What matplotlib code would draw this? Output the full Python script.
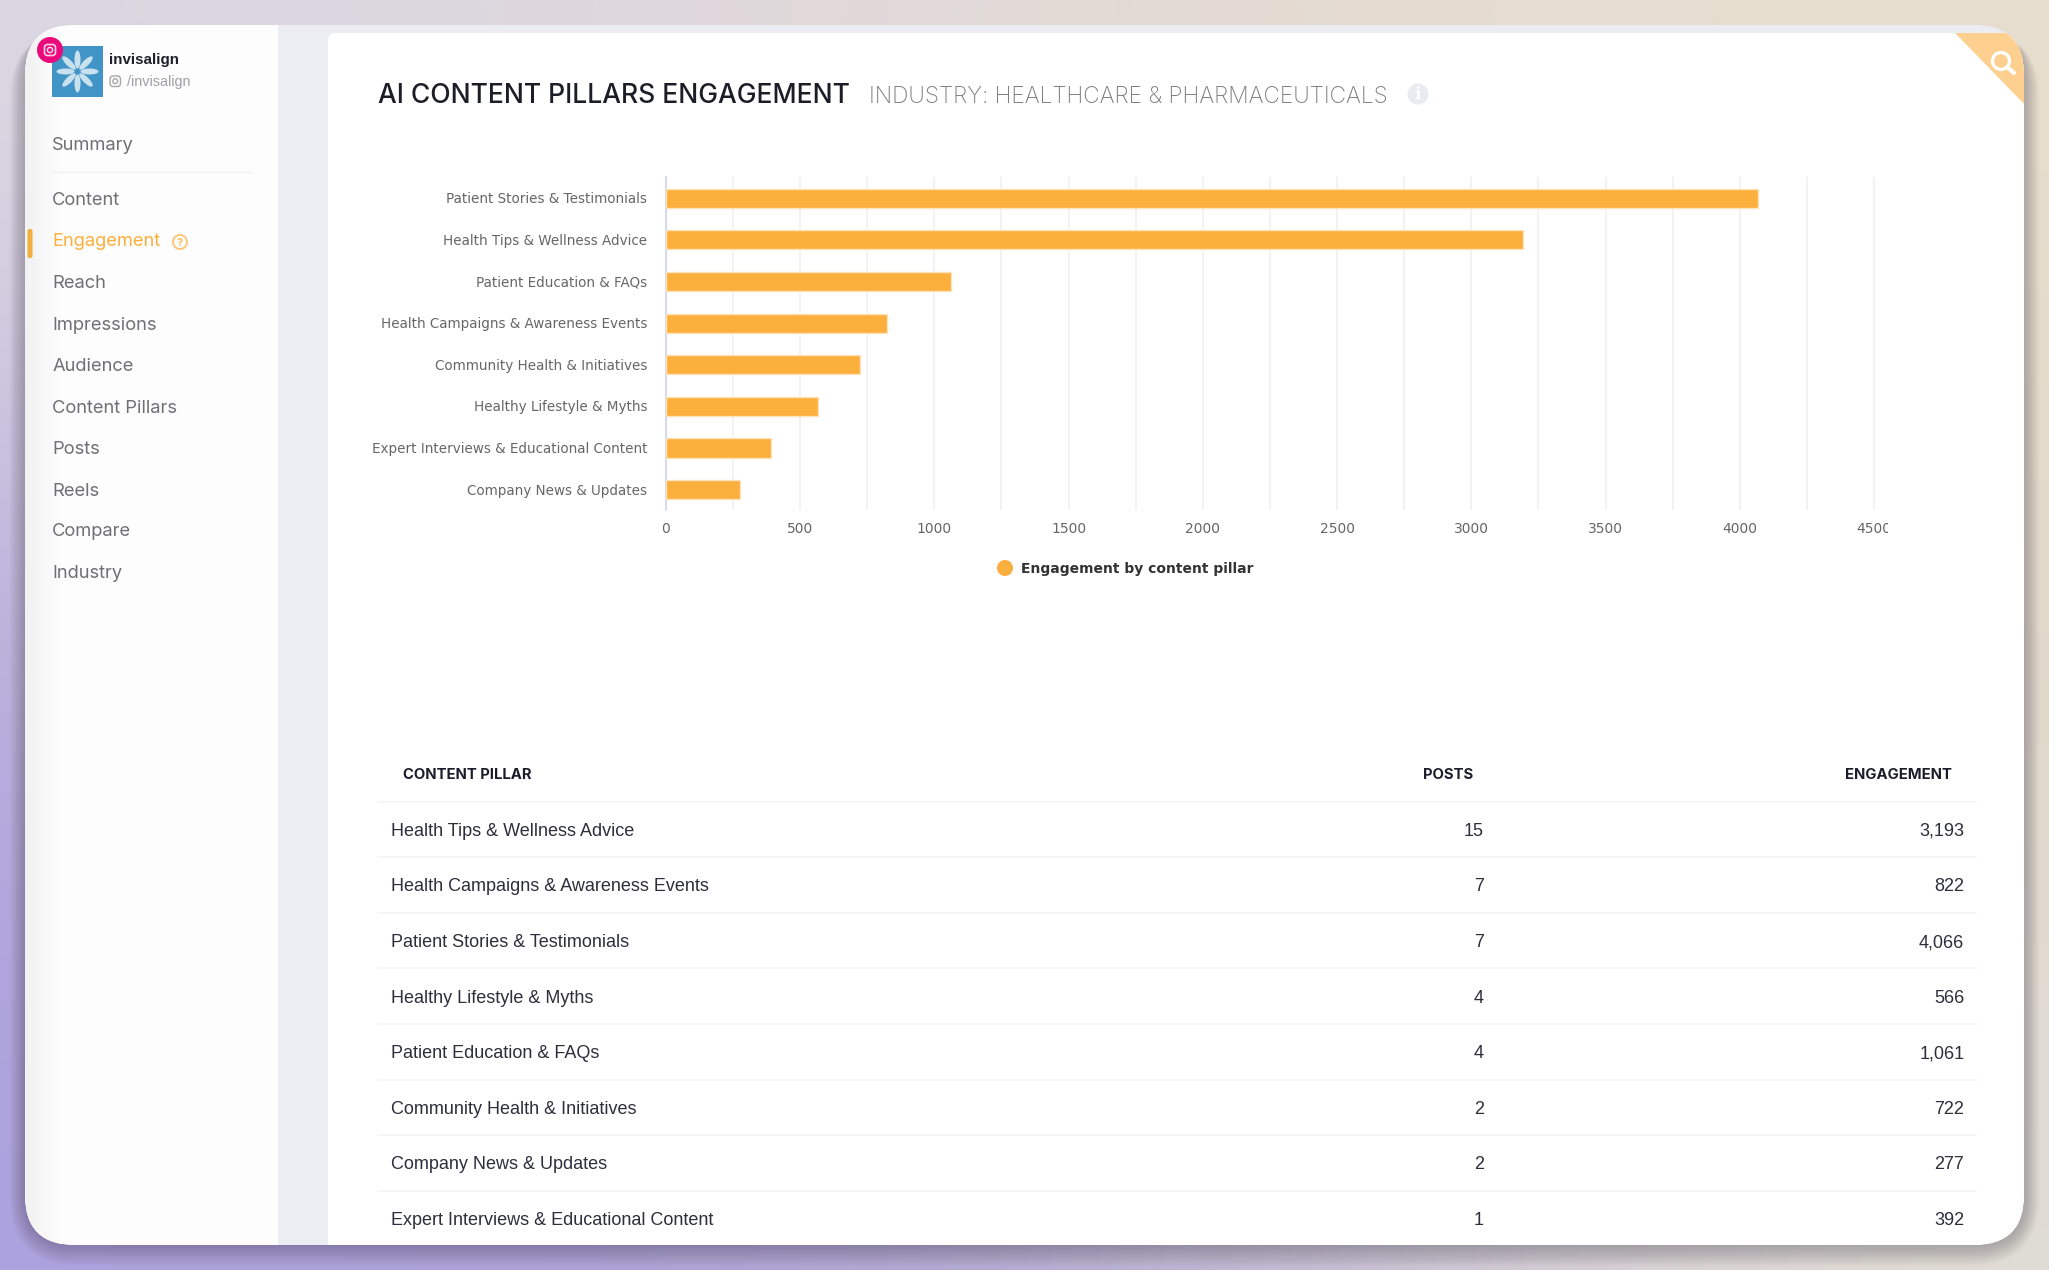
import matplotlib
matplotlib.use("Agg")
import matplotlib.pyplot as plt
import numpy as np
from matplotlib.patches import FancyBboxPatch, Rectangle, Circle, Ellipse, Polygon
from matplotlib.ticker import MultipleLocator
from matplotlib.transforms import Bbox, IdentityTransform, TransformedBbox

# table order, chart is sorted by engagement
pillars = ["Health Tips & Wellness Advice", "Health Campaigns & Awareness Events",
           "Patient Stories & Testimonials", "Healthy Lifestyle & Myths",
           "Patient Education & FAQs", "Community Health & Initiatives",
           "Company News & Updates", "Expert Interviews & Educational Content"]
posts = [15, 7, 7, 4, 4, 2, 2, 1]
engagement = [3193, 822, 4066, 566, 1061, 722, 277, 392]
nav_items = ["Summary", "Content", "Engagement", "Reach", "Impressions", "Audience",
             "Content Pillars", "Posts", "Reels", "Compare", "Industry"]
x_labels = [0, 500, 1000, 1500, 2000, 2500, 3000, 3500, 4000, 4500]

W, H = 2049, 1270
UI_FONT = "Inter"
ORANGE = "#fbaf3c"

fig = plt.figure(figsize=(W / 100, H / 100), dpi=100)
bg = fig.add_axes([0, 0, 1, 1])

# page gradient
grad = np.array([[[220, 216, 226], [228, 218, 214], [232, 222, 206]],
                 [[184, 174, 220], [205, 196, 205], [226, 216, 200]],
                 [[172, 162, 222], [170, 160, 205], [226, 222, 214]]]) / 255
bg.imshow(grad, extent=(0, W, H, 0), interpolation="bicubic", aspect="auto", zorder=0)

# window shadow, nothing above the top edge
for i in range(1, 20):
    bg.add_patch(FancyBboxPatch((25 - i * 0.8, 30), 1999 + i * 1.6, 1215 + i * 1.1,
                                boxstyle="round,pad=0,rounding_size=%d" % (50 + i),
                                fc="#3a3440", ec="none", alpha=0.016, zorder=1))

window = FancyBboxPatch((25, 25), 1999, 1220, boxstyle="round,pad=0,rounding_size=50",
                        fc="#ecedf2", ec="none", zorder=2)
bg.add_patch(window)

# sidebar
sidebar = Rectangle((25, 25), 253, 1220, fc="#fdfdfd", ec="none", zorder=3)
bg.add_patch(sidebar)
sidebar.set_clip_path(window)
shade = bg.imshow(np.linspace(0.945, 0.992, 40).reshape(1, -1), cmap="gray", vmin=0, vmax=1,
                  extent=(25, 65, 1245, 25), aspect="auto", zorder=3.1)
shade.set_clip_path(window)

# main card
card = FancyBboxPatch((328, 33), 1700, 1220, boxstyle="round,pad=0,rounding_size=8",
                      fc="white", ec="none", zorder=3)
bg.add_patch(card)
card.set_clip_path(window)

# corner search flag
flag = Polygon([(1955, 33), (2030, 33), (2030, 110)], closed=True, fc="#fdd08f", ec="none", zorder=4)
bg.add_patch(flag)
flag.set_clip_path(window)
bg.add_patch(Circle((2001, 61), 8.5, fc="none", ec="white", lw=2.4, zorder=5))
bg.plot([2007, 2014], [67, 73], color="white", lw=3, solid_capstyle="round", zorder=5)

# profile block
bg.add_patch(Rectangle((52, 46), 51, 51, fc="#4095c6", ec="none", zorder=4))
for a in range(0, 360, 45):
    cx = 77.5 + 12 * np.cos(np.radians(a))
    cy = 71.5 + 12 * np.sin(np.radians(a))
    bg.add_patch(Ellipse((cx, cy), 18, 6, angle=a, fc="white", ec="none", alpha=0.72, zorder=5))
bg.add_patch(Circle((50, 50), 13, fc="#ea0a7c", ec="none", zorder=6))
bg.add_patch(FancyBboxPatch((44.5, 44.5), 11, 11, boxstyle="round,pad=0,rounding_size=3",
                            fc="none", ec="#ffd0e6", lw=1.2, zorder=7))
bg.add_patch(Circle((50, 50), 2.6, fc="none", ec="#ffd0e6", lw=1.1, zorder=7))
bg.text(109, 60, "invisalign", fontsize=10.9, fontweight="bold", family="Liberation Sans",
        color="#20202c", va="center", zorder=5)
bg.add_patch(FancyBboxPatch((110, 76), 10.5, 10.5, boxstyle="round,pad=0,rounding_size=3",
                            fc="none", ec="#a8a8a8", lw=1, zorder=5))
bg.add_patch(Circle((115.2, 81.2), 2.4, fc="none", ec="#a8a8a8", lw=1, zorder=5))
bg.text(127, 82, "/invisalign", fontsize=10.4, family="Liberation Sans", color="#a0a0a4",
        va="center", zorder=5)

# navigation
nav_y = [145.5, 200.5, 241.5, 283.5, 325, 366.5, 408.5, 449.5, 491, 532, 573.5]
for name, y in zip(nav_items, nav_y):
    active = name == "Engagement"
    bg.text(52.3, y, name, fontsize=13.2, family=UI_FONT, color=ORANGE if active else "#707074",
            va="center", zorder=5)
bg.plot([52, 251], [172, 172], color="#f1f1f3", lw=1, zorder=5)
bg.add_patch(FancyBboxPatch((27.5, 229), 5, 29, boxstyle="round,pad=0,rounding_size=2",
                            fc="#f3ae3d", ec="none", zorder=5))
bg.add_patch(Circle((180, 242), 7, fc="none", ec="#fcc77a", lw=1.4, zorder=5))
bg.text(180, 242.5, "?", fontsize=8, fontweight="bold", family=UI_FONT, color="#fcb95a",
        ha="center", va="center", zorder=6)

# heading
bg.text(378, 96, "AI CONTENT PILLARS ENGAGEMENT", fontsize=19.05, family=UI_FONT, color="#1d1d28",
        fontweight="medium", va="center", zorder=5)
bg.text(869, 97, "INDUSTRY: HEALTHCARE & PHARMACEUTICALS", fontsize=16.35, family=UI_FONT,
        color="#7e7e84", fontweight="light", va="center", zorder=5)
bg.add_patch(Circle((1418, 94), 10.5, fc="#e8ecf0", ec="none", zorder=5))
bg.text(1418, 94.5, "i", fontsize=12, fontweight="bold", family="DejaVu Serif", color="white",
        ha="center", va="center", zorder=6)

# legend
bg.add_patch(Circle((1005, 568), 8, fc=ORANGE, ec="none", zorder=5))
bg.text(1021, 569, "Engagement by content pillar", fontsize=10, fontweight="bold",
        family="DejaVu Sans", color="#333333", va="center", zorder=5)

# table
header_y = 775
bg.text(403, header_y, "CONTENT PILLAR", fontsize=10.7, fontweight="bold", family=UI_FONT,
        color="#1c1c2c", va="center", zorder=5)
bg.text(1473, header_y, "POSTS", fontsize=10.7, fontweight="bold", family=UI_FONT,
        color="#1c1c2c", va="center", ha="right", zorder=5)
bg.text(1952, header_y, "ENGAGEMENT", fontsize=10.7, fontweight="bold", family=UI_FONT,
        color="#1c1c2c", va="center", ha="right", zorder=5)
row_h = 55.6
for i, (name, n, e) in enumerate(zip(pillars, posts, engagement)):
    y = 831.3 + i * row_h
    bg.plot([378, 1976], [y - 29.8, y - 29.8], color="#f3f3f5", lw=1.2, zorder=5)
    bg.text(391, y, name, fontsize=12.95, family="Liberation Sans", color="#2e2e3c", va="center", zorder=5)
    bg.text(1484, y, str(n), fontsize=12.95, family="Liberation Sans", color="#2e2e3c",
            va="center", ha="right", zorder=5)
    bg.text(1964.3, y, f"{e:,}", fontsize=12.95, family="Liberation Sans", color="#2e2e3c",
            va="center", ha="right", zorder=5)

bg.set_xlim(0, W)
bg.set_ylim(H, 0)
bg.axis("off")

# bar chart, sorted by engagement
order = np.argsort(engagement)[::-1]
chart_names = [pillars[i] for i in order]
chart_vals = [engagement[i] for i in order]

left, right, top, bottom = 665.8, 1888.0, 177.0, 510.0
ax = fig.add_axes([left / W, 1 - bottom / H, (right - left) / W, (bottom - top) / H])
ax.patch.set_visible(False)
ax.barh(np.arange(len(chart_vals)) + 0.01, chart_vals, height=0.46, color=ORANGE, edgecolor="#fde2ba",
        linewidth=1.0, zorder=3)
ax.set_xlim(0, 4552)
ax.set_ylim(7.5, -0.5)
ax.set_yticks(np.arange(len(chart_names)))
ax.set_yticklabels(chart_names, fontsize=9.72, color="#666666")
ax.set_xticks(x_labels)
ax.set_xticklabels([str(v) for v in x_labels], fontsize=10, color="#666666")
ax.xaxis.set_minor_locator(MultipleLocator(250))
ax.grid(axis="x", which="both", color="#efeff0", lw=1.1, zorder=0)
ax.set_axisbelow(True)
ax.tick_params(axis="both", which="both", length=0)
ax.tick_params(axis="y", pad=13.5)
ax.tick_params(axis="x", pad=9)
for s in ["top", "right", "bottom"]:
    ax.spines[s].set_visible(False)
ax.spines["left"].set_color("#ccd6eb")
ax.spines["left"].set_linewidth(1.2)

# last tick label is cut off at the plot edge in the original
edge = TransformedBbox(Bbox([[0, 0], [right, H]]), IdentityTransform())
for lbl in ax.get_xticklabels():
    lbl.set_clip_box(edge)
    lbl.set_clip_on(True)

fig.savefig("out.png", dpi=100)
